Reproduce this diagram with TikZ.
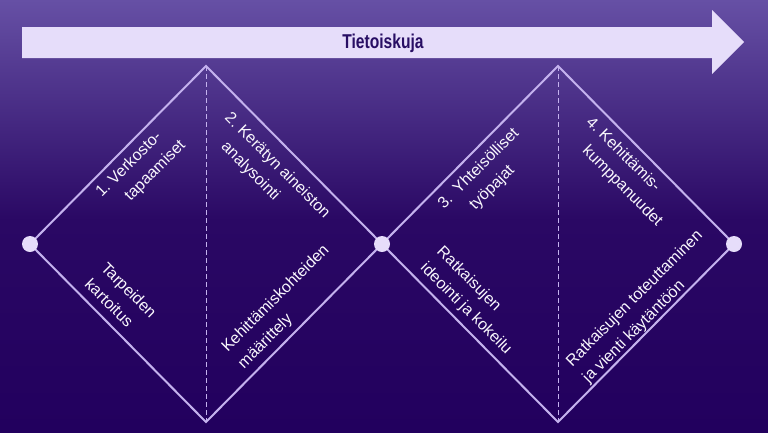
\documentclass[tikz,border=0pt]{standalone}
\usepackage{fontspec}
\setmainfont{Liberation Sans}
\usepackage{graphicx}
\usetikzlibrary{positioning}
\definecolor{bgtop}{RGB}{102,80,165}
\definecolor{bgmid}{RGB}{42,8,100}
\definecolor{bgbot}{RGB}{34,0,94}
\definecolor{lila}{RGB}{196,178,238}
\definecolor{vaalea}{RGB}{230,221,250}
\definecolor{tumma}{RGB}{40,14,100}

\begin{document}
\begin{tikzpicture}[
		x=1pt, y=-1pt,
		% reunaviivat (timantit)
		reuna/.style={draw=lila, line width=2pt},
		% katkoviiva keskellä
		katko/.style={draw=lila, line width=1pt, dash pattern=on 5pt off 3pt},
		% pisteet kärjissä
		piste/.style={circle, fill=vaalea, minimum size=16pt, inner sep=0pt},
		% tekstit
		teksti/.style={text=white!90!lila, font=\fontsize{16}{23}\selectfont, align=left, inner sep=0pt}
		]
		
		% --- 1. TAUSTA ---
		\fill[top color=bgtop, bottom color=bgmid] (0,0) rectangle (768,220);
		\fill[top color=bgmid, bottom color=bgbot] (0,220) rectangle (768,432);
		\useasboundingbox (0,0) rectangle (768,432);
		
		% --- 2. NUOLI ---
		\coordinate (nuoli) at (22,27);
		\coordinate (karki) at (744,42);
		\fill[vaalea] (nuoli) -- (712,27) -- (712,10) -- (karki) -- (712,74) -- (712,58) -- (22,58) -- cycle;
		\node[text=tumma, font=\fontsize{20}{24}\selectfont\bfseries] (otsikko) at (383,43)
		{\scalebox{0.78}[1]{Tietoiskuja}};
		
		% --- 3. TIMANTIT ---
		\coordinate (v1) at (30,244);
		\coordinate (y1) at (206,66);
		\coordinate (m)  at (382,244);
		\coordinate (a1) at (206,422);
		\coordinate (y2) at (558,66);
		\coordinate (o)  at (734,244);
		\coordinate (a2) at (558,422);
		
		\draw[reuna] (v1) -- (y1) -- (m) -- (a1) -- cycle;
		\draw[reuna] (m) -- (y2) -- (o) -- (a2) -- cycle;
		\draw[katko] (y1) -- (a1);
		\draw[katko] (y2) -- (a2);
		
		\node[piste] (p1) at (v1) {};
		\node[piste] (p2) at (m) {};
		\node[piste] (p3) at (o) {};
		
		% --- 4. TEKSTIT ---
		\node[teksti, rotate=45]  (t1) at (141,169) {1.~Verkosto-\\\hphantom{1.~}tapaamiset};
		\node[teksti, rotate=-45] (t2) at (269,174) {2.~Kerätyn aineiston\\\hphantom{2.~}analysointi};
		\node[teksti, rotate=45]  (t3) at (487,177) {3.\enspace Yhteisölliset\\\hphantom{3.\enspace}työpajat};
		\node[teksti, rotate=-45] (t4) at (624,172) {4.~Kehittämis-\\\hphantom{4.~}kumppanuudet};
		
		\node[teksti, rotate=-45] (s1) at (121,298) {Tarpeiden\\kartoitus};
		\node[teksti, rotate=45]  (s2) at (284,307) {Kehittämiskohteiden\\määrittely};
		\node[teksti, rotate=-45] (s3) at (474,301) {Ratkaisujen\\ideointi ja kokeilu};
		\node[teksti, rotate=45]  (s4) at (643,307) {Ratkaisujen toteuttaminen\\ja vienti käytäntöön};
	\end{tikzpicture}
\end{document}
